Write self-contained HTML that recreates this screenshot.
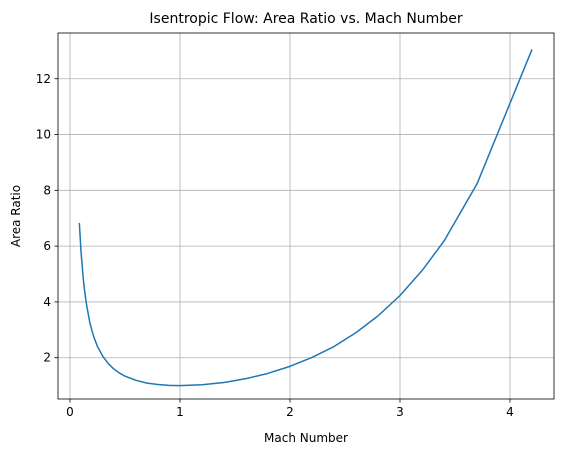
<!DOCTYPE html>
<html><head><meta charset="utf-8"><style>
body{margin:0;background:#fff;}
svg{font-family:"DejaVu Sans","Liberation Sans",sans-serif;}
</style></head><body>
<svg id="chart" width="562" height="455" viewBox="0 0 562 455">
<rect x="0" y="0" width="562" height="455" fill="#fff"/>
<text x="306" y="23" text-anchor="middle" font-size="14" fill="#000">Isentropic Flow: Area Ratio vs. Mach Number</text>
<g id="grid"></g>
<g id="axes"></g>
<path id="series" fill="none" stroke="#1f77b4" stroke-width="1.5" stroke-linejoin="round"/>
<rect x="58" y="33" width="496" height="366" fill="none" stroke="#000" stroke-width="0.8"/>
<text x="306" y="442" text-anchor="middle" font-size="12">Mach Number</text>
<text x="20" y="216" text-anchor="middle" font-size="12" transform="rotate(-90 20 216)">Area Ratio</text>
</svg>
<script>
const machValues=[0.085,0.1,0.12,0.13,0.15,0.18,0.2,0.22,0.25,0.3,0.35,0.4,0.45,0.5,0.6,0.7,0.8,0.9,1.0,1.2,1.4,1.6,1.8,2.0,2.2,2.4,2.6,2.8,3.0,3.2,3.4,3.7,4.2];
const areaRatios=[6.83,5.82,4.86,4.49,3.91,3.27,2.96,2.71,2.40,2.04,1.78,1.59,1.45,1.34,1.19,1.09,1.04,1.01,1.0,1.03,1.11,1.25,1.44,1.69,2.01,2.40,2.90,3.50,4.23,5.12,6.18,8.23,13.05];
const xTicks=[0,1,2,3,4];
const yTicks=[2,4,6,8,10,12];
const L=58,R=554,T=33,B=399;
const xMin=-0.109,xMax=4.4,yMin=0.52,yMax=13.64;
const sx=v=>L+(v-xMin)/(xMax-xMin)*(R-L);
const sy=v=>B-(v-yMin)/(yMax-yMin)*(B-T);
const NS="http://www.w3.org/2000/svg";
const grid=document.getElementById('grid'),axes=document.getElementById('axes');
function mk(tag,attrs,parent){const e=document.createElementNS(NS,tag);for(const k in attrs)e.setAttribute(k,attrs[k]);parent.appendChild(e);return e;}
xTicks.forEach(t=>{const x=sx(t);
 const g=mk('line',{x1:x,x2:x,y1:T,y2:B,stroke:'#b0b0b0','stroke-width':0.8},grid);
 
 
 const tk=mk('line',{x1:x,x2:x,y1:B,y2:B+3.5,stroke:'#000','stroke-width':0.8},axes);
 
 
 const lb=mk('text',{x:x,y:B+17,'text-anchor':'middle','font-size':12},axes);lb.textContent=t;
 
 
});
yTicks.forEach(t=>{const y=sy(t);
 const g=mk('line',{x1:L,x2:R,y1:y,y2:y,stroke:'#b0b0b0','stroke-width':0.8},grid);
 
 
 const tk=mk('line',{x1:L-3.5,x2:L,y1:y,y2:y,stroke:'#000','stroke-width':0.8},axes);
 
 
 const lb=mk('text',{x:L-7,y:y+4,'text-anchor':'end','font-size':12},axes);lb.textContent=t;
 
 
});
document.getElementById('series').setAttribute('d',machValues.map((m,i)=>(i?'L':'M')+sx(m).toFixed(2)+','+sy(areaRatios[i]).toFixed(2)).join(' '));
</script>
</body></html>
